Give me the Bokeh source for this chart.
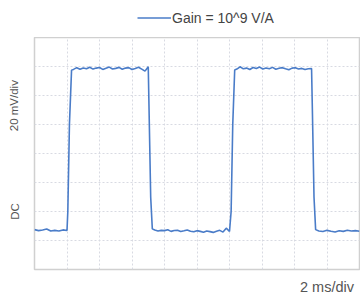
from bokeh.plotting import figure
from bokeh.layouts import column
from bokeh.models import Legend, LegendItem, FixedTicker, Range1d
from bokeh.embed import file_html
from bokeh.resources import INLINE

# time in ms, signal in mV
t_ms = [0.0, 0.25, 0.5, 0.75, 1.0, 1.25, 1.5, 1.75, 2.0,
        2.05, 2.15, 2.28,
        2.4, 2.6, 2.8, 3.0, 3.2, 3.4, 3.6, 3.8, 4.0, 4.2, 4.4, 4.6,
        4.8, 5.0, 5.2, 5.4, 5.6, 5.8, 6.0, 6.2, 6.4, 6.6, 6.8, 7.0,
        7.05, 7.15, 7.25,
        7.4, 7.6, 7.8, 8.0, 8.2, 8.4, 8.6, 8.8, 9.0, 9.2, 9.4, 9.6,
        9.8, 10.0, 10.2, 10.4, 10.6, 10.8, 11.0, 11.2, 11.4, 11.6, 11.8, 12.0,
        12.1, 12.2, 12.32,
        12.45, 12.65, 12.85, 13.05, 13.25, 13.45, 13.65, 13.85, 14.05, 14.25, 14.45, 14.65,
        14.85, 15.05, 15.25, 15.45, 15.65, 15.85, 16.05, 16.25, 16.45, 16.65, 16.85, 17.05,
        17.1, 17.2, 17.3,
        17.5, 17.75, 18.0, 18.25, 18.5, 18.75, 19.0, 19.25, 19.5, 19.75, 20.0]
v_mV = [27.5, 26.8, 27.2, 27.9, 26.5, 27.0, 26.6, 27.3, 26.9,
        40.0, 100.0, 137.5,
        138.0, 139.2, 138.1, 139.0, 138.4, 139.5, 138.2, 138.9, 139.3, 138.0, 138.8, 139.6,
        138.3, 138.7, 139.4, 138.1, 138.9, 139.2, 137.9, 138.6, 139.5, 138.2, 136.8, 139.8,
        110.0, 50.0, 28.0,
        27.2, 26.5, 27.0, 26.8, 27.4, 26.3, 26.9, 27.1, 26.2, 26.7, 27.3, 26.4,
        26.0, 26.8, 26.3, 25.7, 26.5, 26.1, 25.6, 26.4, 27.0, 25.8, 28.5, 26.2,
        40.0, 100.0, 137.6,
        138.2, 139.8, 138.4, 138.9, 137.9, 139.3, 138.6, 139.6, 138.3, 139.0, 138.5, 139.4,
        138.1, 138.8, 139.2, 138.4, 137.8, 138.9, 139.1, 138.3, 138.7, 137.9, 138.4, 138.6,
        110.0, 50.0, 27.5,
        26.6, 26.2, 27.0, 26.4, 25.9, 26.7, 26.3, 27.1, 26.5, 26.8, 26.4]

x_grid = [0, 2, 4, 6, 8, 10, 12, 14, 16, 18, 20]
y_grid = [0, 20, 40, 60, 80, 100, 120, 140, 160]

legend_label = "Gain = 10^9 V/A"
# axis captions and where along each axis they sit
y_caption_pos = [40, 113]
y_caption_text = ["DC", "20 mV/div"]
x_caption_pos = [18]
x_caption_text = ["2 ms/div"]

FONT = "Liberation Sans"
TXT = "#555555"
LINE = "#4a7cc8"

# ---- main scope plot ----
p = figure(width=360, height=262, output_backend="svg", toolbar_location=None,
           x_range=Range1d(0, 20), y_range=Range1d(0, 160),
           min_border_left=34, min_border_right=1, min_border_top=0, min_border_bottom=30)
p.outline_line_color = "#d0d0d0"
p.outline_line_width = 1.5

p.xgrid.ticker = FixedTicker(ticks=x_grid)
p.ygrid.ticker = FixedTicker(ticks=y_grid)
for g in (p.xgrid, p.ygrid):
    g.grid_line_color = "#d8dae2"
    g.grid_line_dash = "2 2"
    g.grid_line_width = 1

for ax in (p.xaxis[0], p.yaxis[0]):
    ax.axis_line_color = None
    ax.major_tick_line_color = None
    ax.minor_tick_line_color = None
    ax.major_tick_in = 0
    ax.major_tick_out = 0
    ax.major_label_text_font = FONT
    ax.major_label_text_color = TXT

p.yaxis[0].ticker = FixedTicker(ticks=y_caption_pos)
p.yaxis[0].major_label_overrides = dict(zip(y_caption_pos, y_caption_text))
p.yaxis[0].major_label_orientation = "vertical"
p.yaxis[0].major_label_text_font_size = "11.5px"
p.yaxis[0].major_label_standoff = 14

p.xaxis[0].ticker = FixedTicker(ticks=x_caption_pos)
p.xaxis[0].major_label_overrides = dict(zip(x_caption_pos, x_caption_text))
p.xaxis[0].major_label_text_font_size = "14.5px"
p.xaxis[0].major_label_standoff = 9

p.line(t_ms, v_mV, line_color=LINE, line_width=1.6)

# ---- legend strip above the plot (same series, its own ranges keep it out of view) ----
lg = figure(width=360, height=37, output_backend="svg", toolbar_location=None,
            x_range=Range1d(100, 101), y_range=Range1d(1000, 1001),
            min_border_left=0, min_border_right=0, min_border_top=0, min_border_bottom=0)
lg.axis.visible = False
lg.grid.visible = False
lg.outline_line_color = None
sample = lg.line(t_ms, v_mV, line_color=LINE, line_width=1.6)
legend = Legend(items=[LegendItem(label=legend_label, renderers=[sample])],
                location=(103, 10), orientation="horizontal",
                background_fill_alpha=0, border_line_alpha=0,
                label_text_font=FONT, label_text_font_size="14px", label_text_color="#444444",
                glyph_width=34, glyph_height=19,
                padding=0, margin=0, label_standoff=1)
lg.add_layout(legend, "center")

layout = column(lg, p, spacing=0)
open("out.html", "w").write(file_html(layout, INLINE))
